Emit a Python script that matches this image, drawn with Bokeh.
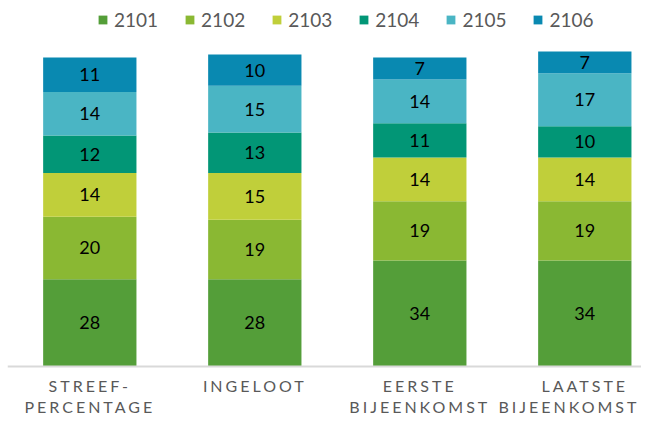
import numpy as np
from bokeh.plotting import figure
from bokeh.layouts import column
from bokeh.models import ColumnDataSource, Range1d, Span, InlineStyleSheet
from bokeh.core.properties import value
from bokeh.embed import file_html
from bokeh.resources import INLINE

categories = ["STREEF-\nPERCENTAGE", "INGELOOT", "EERSTE\nBIJEENKOMST", "LAATSTE\nBIJEENKOMST"]
series = ["2101", "2102", "2103", "2104", "2105", "2106"]
v2101 = [28, 28, 34, 34]
v2102 = [20, 19, 19, 19]
v2103 = [14, 15, 14, 14]
v2104 = [12, 13, 11, 10]
v2105 = [14, 15, 14, 17]
v2106 = [11, 10, 7, 7]
colors = ["#549E39", "#8AB833", "#C0CF3A", "#029676", "#4AB5C4", "#0989B1"]

values = [v2101, v2102, v2103, v2104, v2105, v2106]
xs = list(range(len(categories)))
data = {"x": xs}
for name, vals in zip(series, values):
    data[name] = vals
source = ColumnDataSource(data)

FONT = "Lato"
W = 641
H_MAIN = 368
H_LAB = 48
PX_PER_UNIT = 3.12
BOTTOM_PAD = 2
LEFT = 7
x_range = Range1d(-0.4988, 3.3436)
PX_PER_X = (W - LEFT) / (x_range.end - x_range.start)

p = figure(width=W, height=H_MAIN, output_backend="svg", toolbar_location=None,
           x_range=x_range,
           y_range=Range1d(-BOTTOM_PAD / PX_PER_UNIT, (H_MAIN - BOTTOM_PAD) / PX_PER_UNIT),
           x_axis_location=None, y_axis_location=None,
           min_border_left=LEFT, min_border_right=0, min_border_top=0, min_border_bottom=0)
p.outline_line_color = None
p.xgrid.visible = False
p.ygrid.visible = False

p.vbar_stack(series, x="x", width=0.5655, color=colors, line_color=None,
             source=source, legend_label=series)
p.add_layout(Span(location=0, dimension="width", line_color="#d9d9d9", line_width=2))

# data labels
arr = np.array(values, dtype=float)
cum = np.cumsum(arr, axis=0)
mids = cum - arr / 2
lx, ly, lt = [], [], []
for i in range(arr.shape[0]):
    for j in range(arr.shape[1]):
        lx.append(xs[j]); ly.append(mids[i, j]); lt.append(str(int(arr[i, j])))
p.text(x=lx, y=ly, text=lt, text_align="center", text_baseline="middle",
       text_font=value(FONT), text_font_size="18px", text_color="#000000")

lg = p.legend[0]
lg.orientation = "horizontal"
lg.location = (90, 337)
lg.border_line_color = None
lg.background_fill_alpha = 0
lg.padding = 0
lg.margin = 0
lg.spacing = 26
lg.glyph_width = 11
lg.glyph_height = 11
lg.label_standoff = 6
lg.label_text_font = FONT
lg.label_text_font_size = "19px"
lg.label_text_color = "#595959"

# category labels (letter-spaced), in a strip below the plot
LS = 3
FS = 16
p2 = figure(width=W, height=H_LAB, output_backend="svg", toolbar_location=None,
            x_range=x_range, y_range=Range1d(0, H_LAB),
            x_axis_location=None, y_axis_location=None,
            min_border_left=LEFT, min_border_right=0, min_border_top=0, min_border_bottom=0)
p2.outline_line_color = None
p2.xgrid.visible = False
p2.ygrid.visible = False
p2.stylesheets = [InlineStyleSheet(css=":host { letter-spacing: %dpx; }" % LS)]

line_h = 21
top_gap = 7
cx, cy, ct = [], [], []   # centred lines
rx, ry, rt = [], [], []   # lines pulled in from the right edge
for j, cat in enumerate(categories):
    for k, line in enumerate(cat.split("\n")):
        yy = H_LAB - top_gap - k * line_h
        centre_px = LEFT + (xs[j] - x_range.start) * PX_PER_X
        est_w = len(line) * (0.6 * FS + LS)
        if centre_px + est_w / 2 > W - 2:
            rx.append(x_range.end - (len(line) * LS + 2) / PX_PER_X); ry.append(yy); rt.append(line)
        else:
            # Bokeh centres using the unspaced width; pull back by half the added spacing
            cx.append(xs[j] - len(line) * LS / 2 / PX_PER_X); cy.append(yy); ct.append(line)
common = dict(text_baseline="top", text_font=value(FONT), text_font_size="%dpx" % FS,
              text_color="#595959")
p2.text(x=cx, y=cy, text=ct, text_align="center", **common)
if rt:
    p2.text(x=rx, y=ry, text=rt, text_align="right", **common)

layout = column(p, p2, spacing=0)
open("out.html", "w").write(file_html(layout, INLINE))
